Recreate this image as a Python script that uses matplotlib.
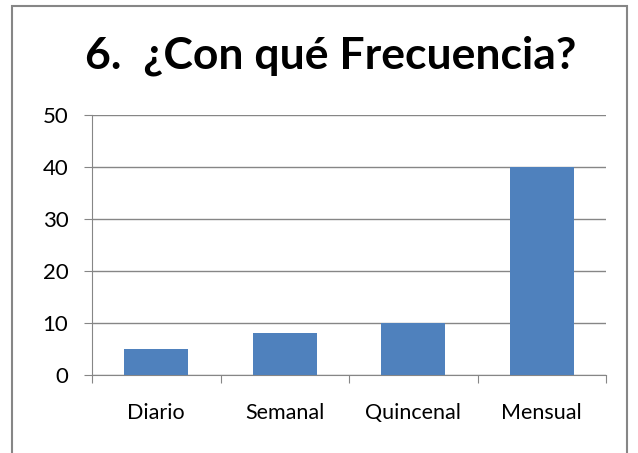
import matplotlib
matplotlib.use('Agg')
import matplotlib.pyplot as plt
from matplotlib.patches import Rectangle

# data
categories = ['Diario', 'Semanal', 'Quincenal', 'Mensual']
values = [5, 8, 10, 40]
y_ticks = [0, 10, 20, 30, 40, 50]

plt.rcParams['font.family'] = ['Lato', 'DejaVu Sans']

fig = plt.figure(figsize=(6.38, 4.53), dpi=100)
ax = fig.add_axes([92 / 638, 1 - 375 / 453, (606 - 92) / 638, (375 - 115) / 453])

x = range(len(categories))
ax.bar(x, values, width=0.5, color='#4F81BD', zorder=3)
ax.set_xlim(-0.5, len(categories) - 0.5)
ax.set_ylim(0, 50)
ax.set_yticks(y_ticks)
ax.set_xticks([i - 0.5 for i in range(len(categories) + 1)], minor=False)
ax.set_xticklabels([])
ax.set_xticks(list(x), minor=True)
ax.set_xticklabels(categories, minor=True)
ax.tick_params(axis='x', which='minor', length=0, pad=20, labelsize=15.5)
ax.tick_params(axis='x', which='major', length=6, color='#868686', direction='out')
ax.tick_params(axis='y', length=6, color='#868686', labelsize=16, pad=11)
ax.yaxis.grid(True, color='#868686', linewidth=1, zorder=0)
for side in ['top', 'right']:
    ax.spines[side].set_visible(False)
ax.spines['left'].set_color('#868686')
ax.spines['bottom'].set_color('#868686')

fig.text(331 / 638, 1 - 68 / 453, '6.  ¿Con qué Frecuencia?', ha='center', va='baseline',
         fontsize=32, fontweight='bold')

# chart frame
fig.patches.append(Rectangle((12 / 638, -0.05), (627 - 12) / 638, 1 - 6 / 453 + 0.05,
                             transform=fig.transFigure, fill=False,
                             edgecolor='#868686', linewidth=1.5))

fig.savefig('out.png', dpi=100)
